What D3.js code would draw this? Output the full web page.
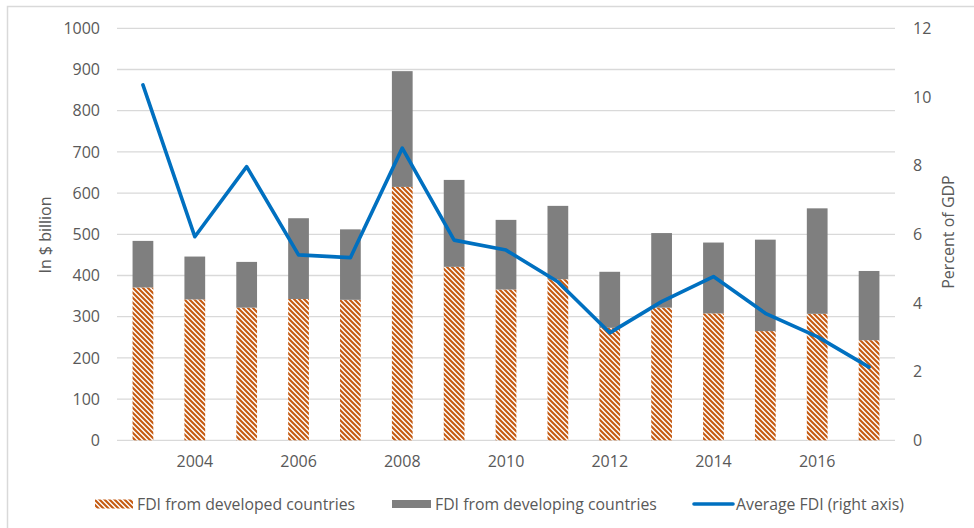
<!DOCTYPE html>
<html>
<head>
<meta charset="utf-8">
<script src="https://cdn.jsdelivr.net/npm/d3@7"></script>
<style>
  body { margin: 0; background: #fff; }
  svg text { font-family: "Open Sans", sans-serif; fill: #595959; }
</style>
</head>
<body>
<svg id="chart" width="974" height="528"></svg>
<script>
const years = [2003, 2004, 2005, 2006, 2007, 2008, 2009, 2010, 2011, 2012, 2013, 2014, 2015, 2016, 2017];
const developed = [371, 342, 322, 343, 341, 615, 421, 366, 391, 273, 322, 308, 265, 307, 243];
const developing = [113, 104, 111, 196, 171, 281, 211, 169, 178, 136, 181, 172, 222, 256, 168];
const avgFdi = [10.35, 5.93, 7.97, 5.40, 5.32, 8.51, 5.83, 5.54, 4.62, 3.13, 4.04, 4.77, 3.70, 3.02, 2.13];
const leftTicks = [0, 100, 200, 300, 400, 500, 600, 700, 800, 900, 1000];
const rightTicks = [0, 2, 4, 6, 8, 10, 12];
const yearLabels = [2004, 2006, 2008, 2010, 2012, 2014, 2016];
const legendNames = ['FDI from developed countries', 'FDI from developing countries', 'Average FDI (right axis)'];

const ORANGE = '#c55a11';
const GREY = '#7f7f7f';
const BLUE = '#0070c0';
const GRID = '#d9d9d9';

function draw() {
    var svg = d3.select('svg#chart');
    const left = 117, right = 895, top = 28.3, bottom = 440.3;

    // outer frame of the chart area
    svg.append('rect')
        .attr('x', 7.5).attr('y', 6.5)
        .attr('width', 1000).attr('height', 600)
        .attr('fill', 'none')
        .attr('stroke', GRID)
        .attr('stroke-width', 1.5);

    // hatch for developed countries
    var pat = svg.append('defs').append('pattern')
        .attr('id', 'hatch')
        .attr('patternUnits', 'userSpaceOnUse')
        .attr('width', 5).attr('height', 5);
    pat.append('rect').attr('width', 5).attr('height', 5).attr('fill', '#fff');
    pat.append('path')
        .attr('d', 'M-1,-1 L6,6 M-1,4 L1,6 M4,-1 L6,1')
        .attr('stroke', ORANGE)
        .attr('stroke-width', 2.1);

    var x = d3.scaleBand()
        .domain(years)
        .range([left, right])
        .paddingInner(0.6)
        .paddingOuter(0.3);
    var y = d3.scaleLinear().domain([0, 1000]).range([bottom, top]);
    var y2 = d3.scaleLinear().domain([0, 12]).range([bottom, top]);

    // gridlines
    svg.append('g')
        .selectAll('line')
        .data(leftTicks)
        .enter()
        .append('line')
        .attr('x1', left).attr('x2', right)
        .attr('y1', function(d) { return y(d); })
        .attr('y2', function(d) { return y(d); })
        .attr('stroke', GRID)
        .attr('stroke-width', 1.3);

    // left axis
    var yAxis = svg.append('g')
        .attr('transform', 'translate(' + (left - 17) + ',0)')
        .call(d3.axisLeft(y).tickValues(leftTicks).tickFormat(d3.format('d')).tickSize(0).tickPadding(0));
    yAxis.select('.domain').remove();

    // right axis
    var y2Axis = svg.append('g')
        .attr('transform', 'translate(' + (right + 18) + ',0)')
        .call(d3.axisRight(y2).tickValues(rightTicks).tickSize(0).tickPadding(0));
    y2Axis.select('.domain').remove();

    // bottom axis
    var xAxis = svg.append('g')
        .attr('transform', 'translate(0,' + (bottom + 15) + ')')
        .call(d3.axisBottom(x).tickValues(yearLabels).tickSize(0).tickPadding(0));
    xAxis.select('.domain').remove();

    svg.selectAll('.tick text')
        .attr('font-size', 16)
        .attr('font-family', '"Open Sans", sans-serif')
        .attr('fill', '#595959');

    // stacked bars
    var bars = svg.append('g');
    bars.selectAll('rect.dev')
        .data(years)
        .enter()
        .append('rect')
        .attr('class', 'dev')
        .attr('x', function(d) { return x(d); })
        .attr('width', x.bandwidth())
        .attr('y', function(d, i) { return y(developed[i]); })
        .attr('height', function(d, i) { return y(0) - y(developed[i]); })
        .attr('fill', 'url(#hatch)');
    bars.selectAll('rect.dvg')
        .data(years)
        .enter()
        .append('rect')
        .attr('class', 'dvg')
        .attr('x', function(d) { return x(d); })
        .attr('width', x.bandwidth())
        .attr('y', function(d, i) { return y(developed[i] + developing[i]); })
        .attr('height', function(d, i) { return y(developed[i]) - y(developed[i] + developing[i]); })
        .attr('fill', GREY);

    // average line
    var line = d3.line()
        .x(function(d, i) { return x(years[i]) + x.bandwidth() / 2; })
        .y(function(d) { return y2(d); });
    svg.append('path')
        .datum(avgFdi)
        .attr('d', line)
        .attr('fill', 'none')
        .attr('stroke', BLUE)
        .attr('stroke-width', 3.6)
        .attr('stroke-linejoin', 'round')
        .attr('stroke-linecap', 'round');

    // axis titles
    svg.append('text')
        .attr('transform', 'translate(45,235) rotate(-90)')
        .attr('text-anchor', 'middle')
        .attr('dominant-baseline', 'central')
        .attr('font-size', 16)
        .text('In $ billion');
    svg.append('text')
        .attr('transform', 'translate(948,232) rotate(-90)')
        .attr('text-anchor', 'middle')
        .attr('dominant-baseline', 'central')
        .attr('font-size', 16)
        .text('Percent of GDP');

    // legend
    const legY = 504;
    var leg = svg.append('g');
    leg.append('rect')
        .attr('x', 95).attr('y', legY - 4.5)
        .attr('width', 38).attr('height', 9)
        .attr('fill', 'url(#hatch)');
    leg.append('rect')
        .attr('x', 392).attr('y', legY - 4)
        .attr('width', 39).attr('height', 8)
        .attr('fill', GREY);
    leg.append('line')
        .attr('x1', 694).attr('x2', 733)
        .attr('y1', legY).attr('y2', legY)
        .attr('stroke', BLUE)
        .attr('stroke-width', 3.6)
        .attr('stroke-linecap', 'round');
    leg.selectAll('text')
        .data(legendNames)
        .enter()
        .append('text')
        .attr('x', function(d, i) { return [137, 435, 736][i]; })
        .attr('y', legY)
        .attr('dominant-baseline', 'central')
        .attr('font-size', 15.8)
        .text(function(d) { return d; });
}

draw();
</script>
</body>
</html>
